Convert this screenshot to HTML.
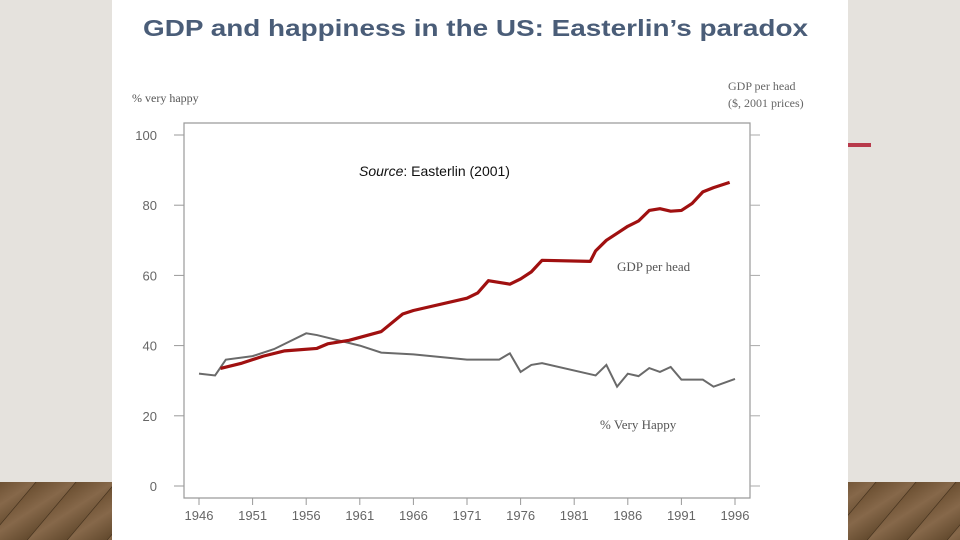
<!DOCTYPE html>
<html><head><meta charset="utf-8"><style>
html,body{margin:0;padding:0;width:960px;height:540px;overflow:hidden;background:#e5e2dd;}
svg{display:block;font-family:"Liberation Sans",sans-serif;}
</style></head><body>
<svg width="960" height="540" viewBox="0 0 960 540">
<defs>
<linearGradient id="wood" x1="0" y1="0" x2="1" y2="1">
<stop offset="0" stop-color="#6a4e30"/><stop offset="0.5" stop-color="#86684a"/><stop offset="1" stop-color="#634a2e"/>
</linearGradient>
<pattern id="planks" width="40" height="60" patternUnits="userSpaceOnUse" patternTransform="skewX(-40)">
<rect width="40" height="60" fill="url(#wood)"/><line x1="0" y1="0" x2="0" y2="60" stroke="#3b2a18" stroke-width="1.5"/>
</pattern>
</defs>
<rect x="0" y="0" width="960" height="482" fill="#e5e2dd"/>
<rect x="0" y="482" width="960" height="58" fill="url(#planks)"/>
<rect x="848" y="143" width="23" height="4" fill="#b83a4b"/>
<rect x="112" y="0" width="736" height="540" fill="#ffffff"/>
<text x="143" y="36" font-size="23" font-weight="bold" fill="#4a5d78" textLength="665" lengthAdjust="spacingAndGlyphs">GDP and happiness in the US: Easterlin’s paradox</text>
<g id="chart"></g>
</svg>
<script>
const years = [1946,1947.5,1948.5,1951,1953,1956,1957,1961,1963,1966,1971,1974,1975,1976,1977,1978,1983,1984,1985,1986,1987,1988,1989,1990,1991,1993,1994,1996];
const happyValues = [32,31.5,36,37,39,43.5,43,40,38,37.5,36,36,37.8,32.5,34.5,35,31.5,34.5,28.3,32,31.3,33.6,32.5,33.9,30.3,30.3,28.3,30.5];
const gdpYears = [1948,1950,1952,1954,1957,1958,1960,1963,1965,1966,1971,1972,1973,1975,1976,1977,1978,1982.5,1983,1984,1985,1986,1987,1988,1989,1990,1991,1992,1993,1994,1995.5];
const gdpValues = [33.5,35,37,38.5,39.2,40.5,41.5,44,49,50,53.5,55,58.5,57.5,59,61,64.3,64,67,70,72,74,75.5,78.5,79,78.3,78.5,80.5,83.8,85,86.5];
const yTicks = [0,20,40,60,80,100];
const xTicks = [1946,1951,1956,1961,1966,1971,1976,1981,1986,1991,1996];
const NS="http://www.w3.org/2000/svg";
const g=document.getElementById('chart');
const xS=v=>199+(v-1946)*10.72;
const yS=v=>486-v*3.51;
function mk(t,a,p){const e=document.createElementNS(NS,t);for(const k in a)e.setAttribute(k,a[k]);(p||g).appendChild(e);return e;}
const frame=mk('path',{d:'M184 123 H750 V498 H184 Z',fill:'none',stroke:'#9a9a9a','stroke-width':1.2});


yTicks.forEach(v=>{
 const t=mk('line',{x1:174,x2:184,y1:yS(v),y2:yS(v),stroke:'#999'});
 
 
 const r=mk('line',{x1:750,x2:760,y1:yS(v),y2:yS(v),stroke:'#aaa'});
 
 
 const l=mk('text',{x:157,y:yS(v)+5,'font-size':13,fill:'#666','text-anchor':'end'});
 l.textContent=v;
 
 
});
xTicks.forEach(v=>{
 const t=mk('line',{x1:xS(v),x2:xS(v),y1:498,y2:505,stroke:'#999'});
 
 
 const l=mk('text',{x:xS(v),y:520,'font-size':13,fill:'#666','text-anchor':'middle'});
 l.textContent=v;
 
 
});
const hp=mk('polyline',{points:years.map((y,i)=>xS(y)+','+yS(happyValues[i])).join(' '),fill:'none',stroke:'#6a6a6a','stroke-width':2});


const gp=mk('polyline',{points:gdpYears.map((y,i)=>xS(y)+','+yS(gdpValues[i])).join(' '),fill:'none',stroke:'#a01010','stroke-width':3.2,'stroke-linejoin':'round'});


const labels=[
 ['% very happy',132,102,12,'start','#555','y-axis-title','normal'],
 ['GDP per head',728,90,12,'start','#666','right-axis-title','normal'],
 ['($, 2001 prices)',728,107,12,'start','#666','right-axis-subtitle','normal'],
 ['GDP per head',617,271,13,'start','#555','gdp-series-label','normal'],
 ['% Very Happy',600,429,13,'start','#555','happy-series-label','normal']
];
labels.forEach(a=>{
 const t=mk('text',{x:a[1],y:a[2],'font-size':a[3],'text-anchor':a[4],fill:a[5],'font-family':'Liberation Serif, serif'});
 t.textContent=a[0];
 
 
});
const s=mk('text',{x:359,y:176,'font-size':14,fill:'#111'});
s.innerHTML='<tspan font-style="italic">Source</tspan>: Easterlin (2001)';


</script>
</body></html>
